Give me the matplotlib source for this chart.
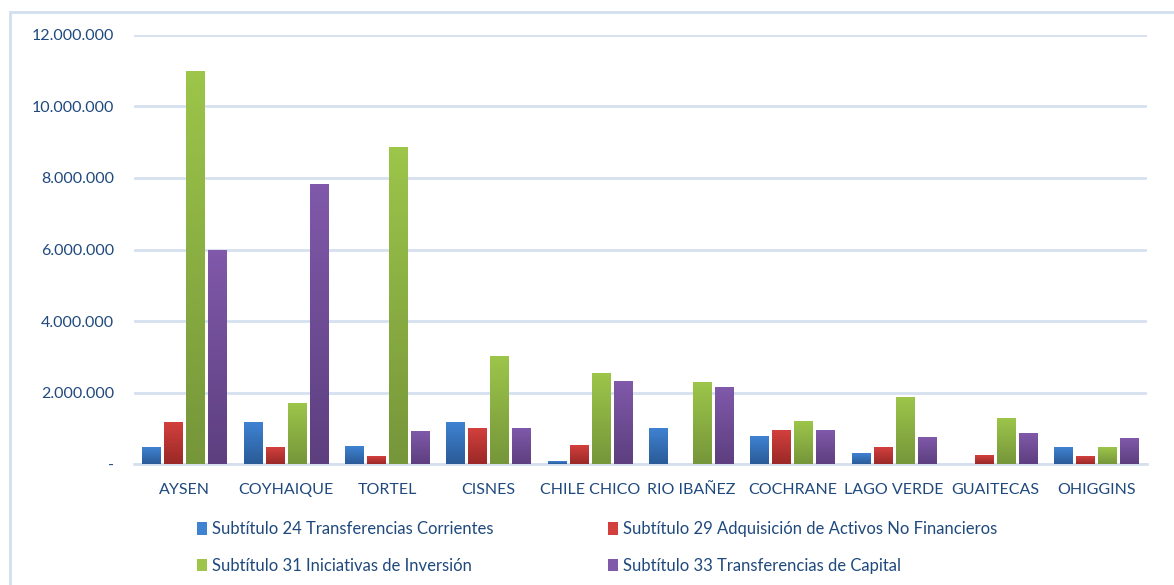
import numpy as np
import matplotlib.pyplot as plt
from matplotlib.ticker import FuncFormatter
from matplotlib.colors import LinearSegmentedColormap
from matplotlib.patches import Rectangle

# data (pesos)
comunas = ['AYSEN', 'COYHAIQUE', 'TORTEL', 'CISNES', 'CHILE CHICO', 'RIO IBAÑEZ',
           'COCHRANE', 'LAGO VERDE', 'GUAITECAS', 'OHIGGINS']
sub24 = [450000, 1155000, 500000, 1155000, 80000, 1000000, 780000, 280000, 0, 450000]
sub29 = [1155000, 475000, 220000, 1000000, 530000, 0, 950000, 470000, 250000, 220000]
sub31 = [10970000, 1690000, 8840000, 3020000, 2520000, 2270000, 1200000, 1870000, 1260000, 450000]
sub33 = [5960000, 7830000, 900000, 1000000, 2320000, 2130000, 950000, 730000, 840000, 700000]
series = ['Subtítulo 24 Transferencias Corrientes',
          'Subtítulo 29 Adquisición de Activos No Financieros',
          'Subtítulo 31 Iniciativas de Inversión',
          'Subtítulo 33 Transferencias de Capital']

# top / bottom colour of each gradient
colors = [('#3f82d2', '#2a5b97'), ('#d2403d', '#9a2927'),
          ('#9cc54a', '#76963a'), ('#8059aa', '#5d3f7f')]

plt.rcParams['font.family'] = ['Lato', 'DejaVu Sans']
txt = '#1f497d'
grid_c = '#d6e1f0'

fig = plt.figure(figsize=(11.74, 5.85), dpi=100)
ax = fig.add_axes([0.114, 0.2068, 0.863, 0.7334])

x = np.arange(len(comunas))
pitch = 0.217
width = 0.178
offsets = [-1.5, -0.5, 0.5, 1.5]

handles = []
for vals, (top, bot), off, lab in zip([sub24, sub29, sub31, sub33], colors, offsets, series):
    bars = ax.bar(x + off * pitch, vals, width=width, color=bot, label=lab, zorder=2)
    cmap = LinearSegmentedColormap.from_list('g', [bot, top])
    grad = np.linspace(0, 1, 64).reshape(-1, 1)
    for b in bars:
        h = b.get_height()
        if h <= 0:
            continue
        x0 = b.get_x()
        ax.imshow(grad, cmap=cmap, origin='lower', aspect='auto', zorder=3,
                  extent=(x0, x0 + b.get_width(), 0, h))
    handles.append(Rectangle((0, 0), 1, 1, facecolor=top, edgecolor='none'))

ax.set_xlim(-0.5, len(comunas) - 0.5)
ax.set_ylim(0, 12000000)
ax.set_yticks(np.arange(0, 12000001, 2000000))


def fmt(v, pos):
    if v == 0:
        return '-'
    return f'{int(v):,}'.replace(',', '.')


ax.yaxis.set_major_formatter(FuncFormatter(fmt))
ax.set_xticks(x)
ax.set_xticklabels(comunas)
ax.grid(axis='y', color=grid_c, linewidth=2, zorder=0)
ax.set_axisbelow(True)
for s in ['top', 'right', 'left']:
    ax.spines[s].set_visible(False)
ax.spines['bottom'].set_color(grid_c)
ax.spines['bottom'].set_linewidth(2)
ax.tick_params(axis='both', length=0, colors=txt, labelsize=11.5)
ax.tick_params(axis='y', pad=14)
ax.tick_params(axis='x', pad=14)

# legend fills row by row in the reference: 24, 29 / 31, 33
order = [0, 2, 1, 3]
fig.legend([handles[i] for i in order], [series[i] for i in order], ncol=2,
           loc='upper left', bbox_to_anchor=(0.155, 0.135),
           frameon=False, fontsize=12, labelcolor=txt, handlelength=0.6, handleheight=0.8,
           handletextpad=0.3, columnspacing=6.9, labelspacing=1.25)

# outer chart border
fig.patches.append(Rectangle((10 / 1174, -0.05), 1.05, 1 - 12 / 585 + 0.05,
                             transform=fig.transFigure, fill=False,
                             edgecolor='#d3dff0', linewidth=2))

fig.savefig('out.png', dpi=100)
